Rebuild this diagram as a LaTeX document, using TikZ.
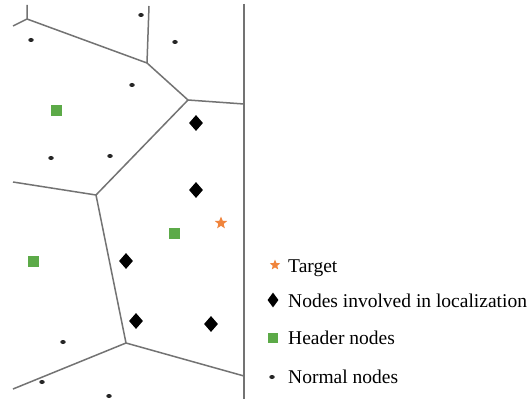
\documentclass[tikz,border=0pt]{standalone}
\usepackage{fontspec}
\setmainfont{Liberation Serif}
\usetikzlibrary{shapes.geometric}

\definecolor{headgreen}{RGB}{92,170,72}
\definecolor{targetorange}{RGB}{240,132,60}
\definecolor{cellgray}{RGB}{115,115,115}

\tikzset{
  cell/.style={draw=cellgray, line width=1.5pt, line join=round},
  normal/.style={ellipse, fill=black!85, inner sep=0pt, minimum width=5.5pt, minimum height=4pt},
  header/.style={rectangle, fill=headgreen, inner sep=0pt, minimum size=11pt},
  involved/.style={diamond, fill=black, inner sep=0pt, minimum width=14pt, minimum height=16pt},
  target/.style={star, star points=5, star point ratio=2.3, fill=targetorange, inner sep=0pt, minimum size=13pt},
  legtext/.style={anchor=base west, inner sep=0pt, font=\fontsize{19.5}{23}\selectfont}
}

\begin{document}
\begin{tikzpicture}[x=1pt, y=-1pt]
  \useasboundingbox (0,0) rectangle (530,401);
  \fill[white] (0,0) rectangle (530,401);

  % cell corners and border ends
  \coordinate (v1) at (27,19);
  \coordinate (v2) at (147,63);
  \coordinate (v3) at (188,100);
  \coordinate (v4) at (96,195);
  \coordinate (v5) at (126,343);
  \coordinate (b1) at (27,5);
  \coordinate (b2) at (13,26);
  \coordinate (b3) at (149,6);
  \coordinate (b4) at (244,104);
  \coordinate (b5) at (13,182);
  \coordinate (b6) at (13,389);
  \coordinate (b7) at (244,376);
  \coordinate (r1) at (244,4);
  \coordinate (r2) at (244,399);

  \draw[cell] (b1) -- (v1) -- (b2);
  \draw[cell] (v1) -- (v2) -- (b3);
  \draw[cell] (v2) -- (v3) -- (b4);
  \draw[cell] (v3) -- (v4) -- (b5);
  \draw[cell] (v4) -- (v5) -- (b6);
  \draw[cell] (v5) -- (b7);
  \draw[cell] (r1) -- (r2);

  % normal nodes
  \node[normal] (n1) at (141,15) {};
  \node[normal] (n2) at (31,40) {};
  \node[normal] (n3) at (175,42) {};
  \node[normal] (n4) at (132,85) {};
  \node[normal] (n5) at (51,158) {};
  \node[normal] (n6) at (110,156) {};
  \node[normal] (n7) at (63,342) {};
  \node[normal] (n8) at (42,382) {};
  \node[normal] (n9) at (109,396) {};

  % header nodes
  \node[header] (h1) at (56,111) {};
  \node[header] (h2) at (174,233) {};
  \node[header] (h3) at (33,261) {};

  % nodes used for the position estimate
  \node[involved] (d1) at (196,123) {};
  \node[involved] (d2) at (196,190) {};
  \node[involved] (d3) at (126,261) {};
  \node[involved] (d4) at (136,321) {};
  \node[involved] (d5) at (211,324) {};

  \node[target] (t) at (221,223) {};

  % legend
  \node[target, minimum size=11pt] (lt) at (275,265) {};
  \node[involved, minimum width=11pt, minimum height=15pt] (ld) at (273,300) {};
  \node[header, minimum size=10pt] (lh) at (273,338) {};
  \node[normal] (ln) at (272,377) {};
  \node[legtext] (ltt) at (288,272) {Target};
  \node[legtext] (ldt) at (288,307) {Nodes involved in localization};
  \node[legtext] (lht) at (288,344) {Header nodes};
  \node[legtext] (lnt) at (288,383) {Normal nodes};
\end{tikzpicture}
\end{document}
